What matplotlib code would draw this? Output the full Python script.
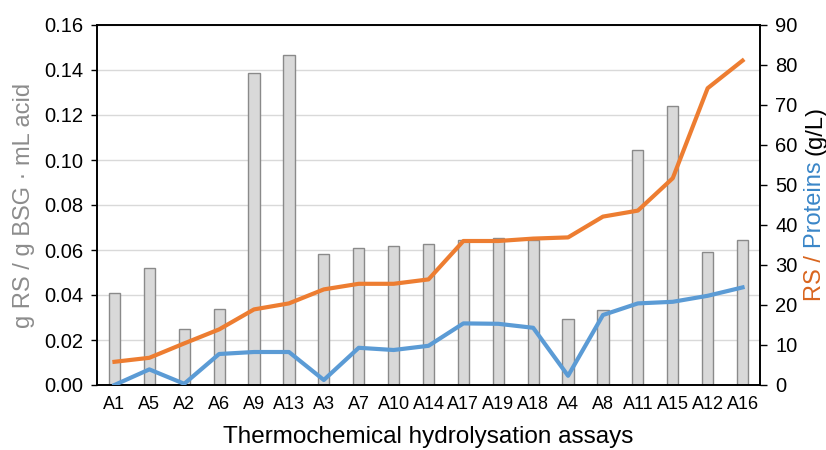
import matplotlib
matplotlib.use("Agg")
import matplotlib.pyplot as plt
import numpy as np

categories = ["A1", "A5", "A2", "A6", "A9", "A13", "A3", "A7", "A10", "A14",
              "A17", "A19", "A18", "A4", "A8", "A11", "A15", "A12", "A16"]
yield_vals = [0.041, 0.0519, 0.025, 0.034, 0.1385, 0.1465, 0.0581, 0.0607, 0.0616, 0.0625,
              0.0644, 0.0653, 0.0645, 0.0295, 0.0332, 0.1044, 0.1241, 0.059, 0.0644]
rs_vals = [5.8, 6.8, 10.4, 13.9, 18.9, 20.4, 23.9, 25.3, 25.3, 26.4,
           36.0, 36.0, 36.6, 36.9, 42.1, 43.6, 51.7, 74.2, 81.1]
protein_vals = [0.0, 3.9, 0.3, 7.75, 8.25, 8.25, 1.25, 9.3, 8.75, 9.8,
                15.4, 15.3, 14.3, 2.3, 17.5, 20.4, 20.8, 22.3, 24.4]
left_ticks = [0.00, 0.02, 0.04, 0.06, 0.08, 0.10, 0.12, 0.14, 0.16]
right_ticks = [0, 10, 20, 30, 40, 50, 60, 70, 80, 90]

plt.rcParams['font.family'] = ['Liberation Sans', 'DejaVu Sans']

ORANGE = "#ED7D31"
BLUE = "#5B9BD5"

fig = plt.figure(figsize=(8.26, 4.5), dpi=100)
ax = fig.add_axes([97/826, 65/450, 663/826, 360/450])
x = np.arange(len(categories))

ax.bar(x, yield_vals, width=0.32, color="#D9D9D9", edgecolor="#8A8A8A", linewidth=1.0, zorder=2)
ax.set_xlim(-0.5, len(categories) - 0.5)
ax.set_ylim(0, 0.16)
ax.set_yticks(left_ticks)
ax.set_yticklabels([f"{v:.2f}" for v in left_ticks])
ax.set_xticks(x)
ax.set_xticklabels(categories)
ax.yaxis.grid(True, color="#D9D9D9", linewidth=1.0, zorder=0)
ax.set_axisbelow(True)
ax.tick_params(axis='y', length=4, width=1, pad=6, labelsize=14.5, direction='out')
ax.tick_params(axis='x', length=0, pad=8, labelsize=13)
for s in ax.spines.values():
    s.set_color("black")
    s.set_linewidth(1.2)

ax2 = ax.twinx()
ax2.plot(x, rs_vals, color=ORANGE, linewidth=3.0, solid_joinstyle='round', zorder=3)
ax2.plot(x, protein_vals, color=BLUE, linewidth=3.0, solid_joinstyle='round', zorder=3)
ax2.set_ylim(0, 90)
ax2.set_yticks(right_ticks)
ax2.tick_params(axis='y', length=5, width=1, pad=6, labelsize=14.5, direction='out')
for s in ax2.spines.values():
    s.set_color("black")
    s.set_linewidth(1.2)

ax.set_xlabel("Thermochemical hydrolysation assays", fontsize=17.5, labelpad=9)

fig.text(24/826, 1 - 205/450, "g RS / g BSG \u00b7 mL acid", rotation=90,
         ha='center', va='center', fontsize=17, color="#8C8C8C")

# multi-coloured right label
fig.canvas.draw()
renderer = fig.canvas.get_renderer()
fs = 17
def width_px(s):
    t = fig.text(0, 0, s + "x", fontsize=fs)
    w1 = t.get_window_extent(renderer).width
    t.remove()
    t = fig.text(0, 0, "x", fontsize=fs)
    w2 = t.get_window_extent(renderer).width
    t.remove()
    return w1 - w2

parts = [("RS / ", "#D9651E"), ("Proteins ", "#3A86C8"), ("(g/L)", "black")]
base_x = 821
y_pix = 450 - 301
for s, c in parts:
    fig.text(base_x / 826, y_pix / 450, s, rotation=90, rotation_mode='anchor',
             ha='left', va='baseline', fontsize=fs, color=c)
    y_pix += width_px(s)

fig.savefig("out.png", dpi=100)
